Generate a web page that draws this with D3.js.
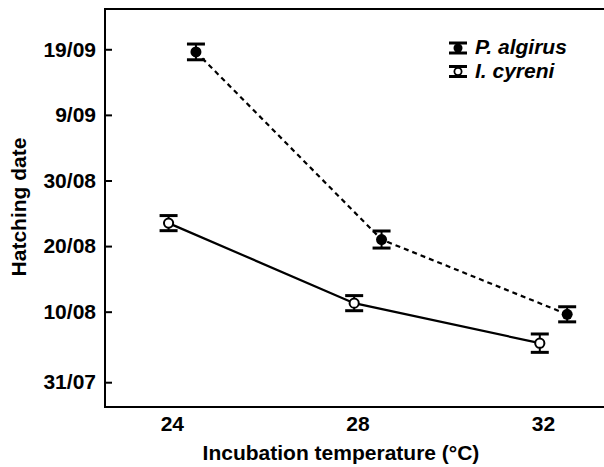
<!DOCTYPE html>
<html>
<head>
<meta charset="utf-8">
<script src="https://cdn.jsdelivr.net/npm/d3@7"></script>
<style>
  html, body { margin: 0; padding: 0; background: #fff; }
  svg { display: block; font-family: "Liberation Sans", Arial, sans-serif; }
</style>
</head>
<body>
<svg id="chart" width="604" height="467"></svg>
<script>
// ---- data (day of year) ----
const temps = [24, 28, 32];
const algirusDay = [261.6, 233.0, 221.6];
const algirusSE = [1.2, 1.3, 1.15];
const cyreniDay = [235.5, 223.3, 217.2];
const cyreniSE = [1.15, 1.15, 1.4];
const yTickValues = [211.25, 222, 232, 242, 252, 262];
const yTickLabels = ["31/07", "10/08", "20/08", "30/08", "9/09", "19/09"];
const xTickValues = [24, 28, 32];
const seriesNames = ["P. algirus", "I. cyreni"];

(function () {
const svg = d3.select("#chart");
const mLeft = 105, mTop = 9, mBottom = 407, mRight = 608;
const FS = 21;

const x = d3.scaleLinear().domain([22.56, 33.4]).range([mLeft, mRight]);
const y = d3.scaleLinear().domain([207.47, 268.14]).range([mBottom, mTop]);

// frame (extends past the right edge)
svg.append("path")
  .attr("d", `M${mRight + 20},${mTop}H${mLeft}V${mBottom}H${mRight + 20}`)
  .attr("fill", "none").attr("stroke", "#000").attr("stroke-width", 2);

// y axis
const yAxis = d3.axisLeft(y)
  .tickValues(yTickValues)
  .tickFormat((d, i) => yTickLabels[i])
  .tickSize(-7).tickPadding(9);
const gy = svg.append("g").attr("transform", `translate(${mLeft},0)`).call(yAxis);
gy.select(".domain").remove();
gy.selectAll(".tick line").attr("stroke", "#000").attr("stroke-width", 2);
gy.selectAll(".tick text").attr("font-size", FS).attr("font-weight", "bold").attr("fill", "#000")
  .attr("font-family", "'Liberation Sans', Arial, sans-serif");

// x axis
const xAxis = d3.axisBottom(x).tickValues(xTickValues).tickSize(0).tickPadding(9);
const gx = svg.append("g").attr("transform", `translate(0,${mBottom})`).call(xAxis);
gx.select(".domain").remove();
gx.selectAll(".tick text").attr("font-size", FS).attr("font-weight", "bold").attr("fill", "#000")
  .attr("font-family", "'Liberation Sans', Arial, sans-serif");

// axis titles
svg.append("text")
  .attr("x", 341).attr("y", 460)
  .attr("text-anchor", "middle")
  .attr("font-size", FS).attr("font-weight", "bold")
  .text("Incubation temperature (°C)");
svg.append("text")
  .attr("transform", "translate(26,207) rotate(-90)")
  .attr("text-anchor", "middle")
  .attr("font-size", FS).attr("font-weight", "bold")
  .text("Hatching date");

const series = [
  { name: seriesNames[0], vals: algirusDay, se: algirusSE, dodge: 0.52, filled: true, dash: "5,4" },
  { name: seriesNames[1], vals: cyreniDay, se: cyreniSE, dodge: -0.07, filled: false, dash: null }
];

const line = d3.line().x(d => x(d.t)).y(d => y(d.v));

series.forEach(s => {
  const pts = temps.map((t, i) => ({ t: t + s.dodge, v: s.vals[i], se: s.se[i] }));
  const g = svg.append("g");
  g.append("path").datum(pts).attr("d", line)
    .attr("fill", "none").attr("stroke", "#000").attr("stroke-width", 2.2)
    .attr("stroke-dasharray", s.dash);
  const eb = g.selectAll(".eb").data(pts).join("g");
  eb.append("line")
    .attr("x1", d => x(d.t)).attr("x2", d => x(d.t))
    .attr("y1", d => y(d.v + d.se)).attr("y2", d => y(d.v - d.se))
    .attr("stroke", "#000").attr("stroke-width", 2);
  [1, -1].forEach(sign => {
    eb.append("line")
      .attr("x1", d => x(d.t) - 9).attr("x2", d => x(d.t) + 9)
      .attr("y1", d => y(d.v + sign * d.se)).attr("y2", d => y(d.v + sign * d.se))
      .attr("stroke", "#000").attr("stroke-width", 3);
  });
  eb.append("circle")
    .attr("cx", d => x(d.t)).attr("cy", d => y(d.v))
    .attr("r", s.filled ? 5.5 : 4.6)
    .attr("fill", s.filled ? "#000" : "#fff")
    .attr("stroke", "#000").attr("stroke-width", s.filled ? 0 : 2);
});

// legend
const legend = svg.append("g");
series.forEach((s, i) => {
  const cy = 48 + i * 23.5, cx = 458;
  const lg = legend.append("g");
  lg.append("line").attr("x1", cx).attr("x2", cx).attr("y1", cy - 5).attr("y2", cy + 5)
    .attr("stroke", "#000").attr("stroke-width", 2);
  [-5, 5].forEach(o => lg.append("line").attr("x1", cx - 9).attr("x2", cx + 9)
    .attr("y1", cy + o).attr("y2", cy + o).attr("stroke", "#000").attr("stroke-width", 3));
  lg.append("circle").attr("cx", cx).attr("cy", cy).attr("r", s.filled ? 4.5 : 3.6)
    .attr("fill", s.filled ? "#000" : "#fff").attr("stroke", "#000")
    .attr("stroke-width", s.filled ? 0 : 1.8);
  lg.append("text").attr("x", 475).attr("y", cy + 6)
    .attr("font-size", FS).attr("font-weight", "bold").attr("font-style", "italic")
    .text(s.name);
});
})();
</script>
</body>
</html>
